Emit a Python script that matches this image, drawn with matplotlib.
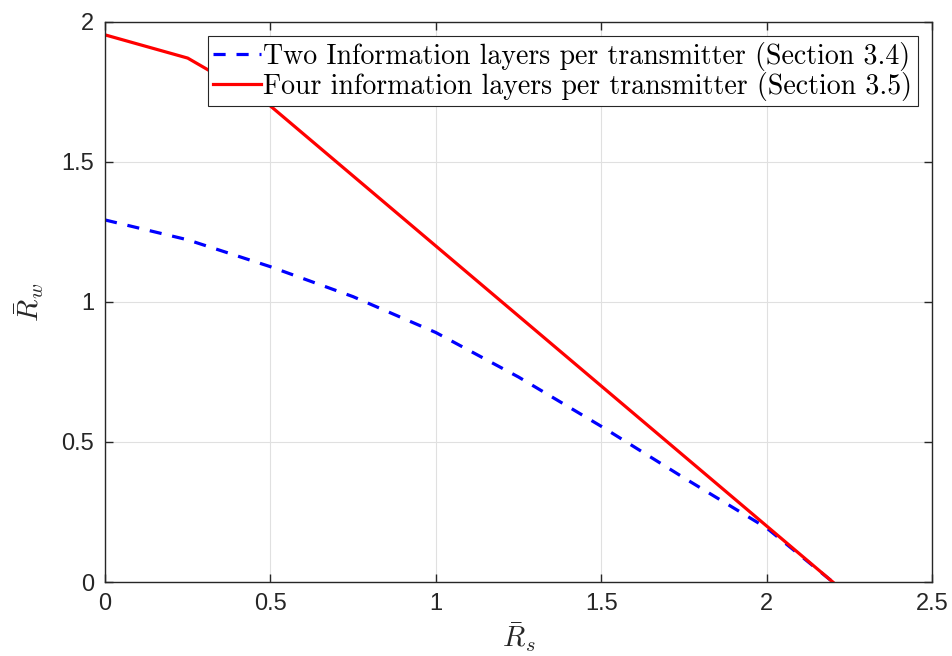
import matplotlib
matplotlib.use("Agg")
import matplotlib.pyplot as plt

# Data
blue_x = [0.0, 0.25, 0.5, 0.75, 1.0, 1.25, 1.5, 1.75, 2.0, 2.2]
blue_y = [1.293, 1.222, 1.126, 1.019, 0.891, 0.732, 0.556, 0.372, 0.193, 0.0]
red_x = [0.0, 0.25, 0.5, 1.0, 1.5, 2.0, 2.2]
red_y = [1.954, 1.871, 1.70, 1.20, 0.70, 0.20, 0.0]
labels = ["Two Information layers per transmitter (Section 3.4)",
          "Four information layers per transmitter (Section 3.5)"]
xticks = [0, 0.5, 1, 1.5, 2, 2.5]
xticklabels = ["0", "0.5", "1", "1.5", "2", "2.5"]
yticks = [0, 0.5, 1, 1.5, 2]
yticklabels = ["0", "0.5", "1", "1.5", "2"]

plt.rcParams['mathtext.fontset'] = 'cm'
axcol = (0.15, 0.15, 0.15)

fig = plt.figure(figsize=(9.53, 6.56), dpi=100)
ax = fig.add_axes([0.1102, 0.1128, 0.978 - 0.1102, 0.9665 - 0.1128])

ax.plot(blue_x, blue_y, color='blue', lw=2.3, linestyle=(0, (3.8, 3.4)), label=labels[0])
ax.plot(red_x, red_y, color='red', lw=2.3, label=labels[1])

ax.set_xlim(0, 2.5)
ax.set_ylim(0, 2)
ax.set_xticks(xticks)
ax.set_xticklabels(xticklabels)
ax.set_yticks(yticks)
ax.set_yticklabels(yticklabels)
ax.grid(True, color=(0.88, 0.88, 0.88), lw=0.8)
ax.set_axisbelow(True)
for s in ax.spines.values():
    s.set_color(axcol)
    s.set_linewidth(1.0)
ax.tick_params(direction='in', length=6, width=1.0, color=axcol, labelcolor=axcol,
               labelsize=17, top=True, right=True, pad=8)
for lab in ax.get_xticklabels() + ax.get_yticklabels():
    lab.set_family('Liberation Sans')

ax.set_xlabel(r'$\bar{R}_s$', fontsize=21, color=axcol, labelpad=4)
ax.set_ylabel(r'$\bar{R}_w$', fontsize=21, color=axcol, labelpad=11)

leg = ax.legend(loc='upper right', prop={'family': 'cmr10', 'size': 20.1},
                fancybox=False, framealpha=1, edgecolor=axcol,
                borderpad=0.2, labelspacing=0.05, handlelength=1.7, handletextpad=0.1,
                borderaxespad=0.5)
leg.get_frame().set_linewidth(0.8)

fig.savefig('out.png', dpi=100)
